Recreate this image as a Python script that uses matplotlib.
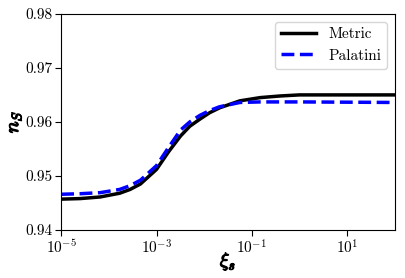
import numpy as np
import matplotlib
matplotlib.use("Agg")
import matplotlib.pyplot as plt
import matplotlib.patheffects as pe

plt.rcParams['font.family'] = 'cmr10'
plt.rcParams['mathtext.fontset'] = 'cm'
plt.rcParams['axes.formatter.use_mathtext'] = True
plt.rcParams['axes.unicode_minus'] = False

# values
xi = [1e-5, 2.5e-5, 6.6e-5, 1.7e-4, 2.8e-4, 4.6e-4, 1e-3, 1.8e-3, 3.2e-3,
      5e-3, 8.1e-3, 1.3e-2, 2.1e-2, 5.6e-2, 0.15, 0.39, 1.0, 100.0]
ns_metric = [0.9457, 0.9458, 0.9461, 0.9468, 0.9475, 0.9485, 0.9512,
             0.9545, 0.9574, 0.9592, 0.9605, 0.9617, 0.9626, 0.9639,
             0.9645, 0.9648, 0.9650, 0.9650]
ns_palatini = [0.9466, 0.9467, 0.9469, 0.9475, 0.9482, 0.9492, 0.9519,
               0.9553, 0.9585, 0.9600, 0.9612, 0.9621, 0.9628, 0.9636,
               0.9637, 0.9637, 0.9637, 0.9636]

fig = plt.figure(figsize=(4.05, 2.78), dpi=100)
ax = fig.add_axes([0.151, 0.173, 0.824, 0.777])

ax.plot(xi, ns_metric, color='black', lw=2.5, label='Metric')
ax.plot(xi, ns_palatini, color='blue', lw=2.5, ls='--', label='Palatini')

ax.set_xscale('log')
ax.set_xlim(1e-5, 1e2)
ax.set_ylim(0.94, 0.98)
ax.set_xticks([1e-5, 1e-3, 1e-1, 1e1])
ax.xaxis.set_minor_locator(matplotlib.ticker.NullLocator())
ax.set_yticks([0.94, 0.95, 0.96, 0.97, 0.98])
ax.yaxis.set_major_formatter(matplotlib.ticker.FormatStrFormatter('%.2f'))
ax.tick_params(labelsize=11, length=4, width=0.8, pad=2)
for s in ax.spines.values():
    s.set_linewidth(0.8)

bold = [pe.withStroke(linewidth=0.9, foreground='black')]
ax.set_xlabel(r'$\xi_s$', fontsize=14, path_effects=bold, va='center')
ax.set_ylabel(r'$n_S$', fontsize=14, path_effects=bold, va='center')
ax.xaxis.set_label_coords(0.5, -0.145)
ax.yaxis.set_label_coords(-0.14, 0.5)
ax.legend(loc='upper right', fontsize=11, handlelength=2.3)

fig.savefig('out.png', dpi=100)
